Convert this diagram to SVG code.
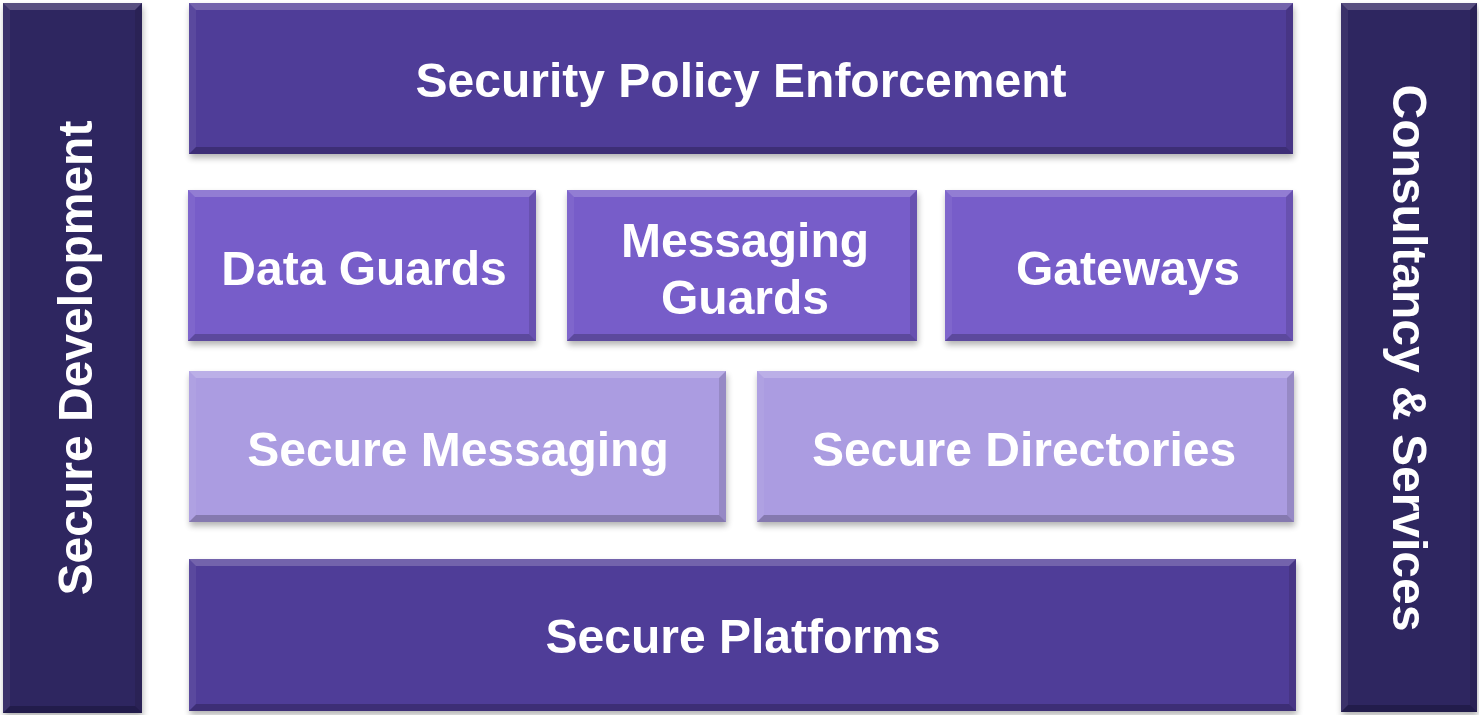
<svg xmlns="http://www.w3.org/2000/svg" width="1479" height="715" viewBox="0 0 1479 715">
<defs>
<style>
.t{font-family:"Liberation Sans",Arial,sans-serif;font-weight:bold;fill:#ffffff;text-anchor:middle;font-size:48px;}
.hi{fill:#ffffff;fill-opacity:0.2;}
.lf{fill:#ffffff;fill-opacity:0.06;}
.bt{fill:#000000;fill-opacity:0.22;}
.rt{fill:#000000;fill-opacity:0.12;}
.dark{fill:#2f2561;}
.mid{fill:#503d98;}
.med{fill:#775dc9;}
.lite{fill:#ab9ce1;}
</style>
<filter id="sh" x="-5%" y="-5%" width="110%" height="115%">
<feGaussianBlur in="SourceAlpha" stdDeviation="3"/>
<feOffset dx="1" dy="4" result="b"/>
<feComponentTransfer><feFuncA type="linear" slope="0.3"/></feComponentTransfer>
<feMerge><feMergeNode/><feMergeNode in="SourceGraphic"/></feMerge>
</filter>
</defs>
<rect width="1479" height="715" fill="#ffffff"/>

<g id="secure-development" filter="url(#sh)">
<rect class="dark" x="3" y="3" width="139" height="710"/>
<polygon class="hi" points="3,3 142,3 135,10 10,10"/>
<polygon class="lf" points="3,3 10,10 10,706 3,713"/>
<polygon class="bt" points="3,713 142,713 135,706 10,706"/>
<polygon class="rt" points="142,3 142,713 135,706 135,10"/>
<text class="t" transform="translate(92,358) rotate(-90)">Secure Development</text>
</g>

<g id="consultancy-services" filter="url(#sh)">
<rect class="dark" x="1341" y="3" width="136" height="709"/>
<polygon class="hi" points="1341,3 1477,3 1470,10 1348,10"/>
<polygon class="lf" points="1341,3 1348,10 1348,705 1341,712"/>
<polygon class="bt" points="1341,712 1477,712 1470,705 1348,705"/>
<polygon class="rt" points="1477,3 1477,712 1470,705 1470,10"/>
<text class="t" transform="translate(1393,358) rotate(90)">Consultancy &amp; Services</text>
</g>

<g id="security-policy-enforcement" filter="url(#sh)">
<rect class="mid" x="189" y="3" width="1104" height="151"/>
<polygon class="hi" points="189,3 1293,3 1286,10 196,10"/>
<polygon class="lf" points="189,3 196,10 196,147 189,154"/>
<polygon class="bt" points="189,154 1293,154 1286,147 196,147"/>
<polygon class="rt" points="1293,3 1293,154 1286,147 1286,10"/>
<text class="t" x="741" y="97">Security Policy Enforcement</text>
</g>

<g id="data-guards" filter="url(#sh)">
<rect class="med" x="188" y="190" width="348" height="151"/>
<polygon class="hi" points="188,190 536,190 529,197 195,197"/>
<polygon class="lf" points="188,190 195,197 195,334 188,341"/>
<polygon class="bt" points="188,341 536,341 529,334 195,334"/>
<polygon class="rt" points="536,190 536,341 529,334 529,197"/>
<text class="t" x="364" y="285">Data Guards</text>
</g>

<g id="messaging-guards" filter="url(#sh)">
<rect class="med" x="567" y="190" width="350" height="151"/>
<polygon class="hi" points="567,190 917,190 910,197 574,197"/>
<polygon class="lf" points="567,190 574,197 574,334 567,341"/>
<polygon class="bt" points="567,341 917,341 910,334 574,334"/>
<polygon class="rt" points="917,190 917,341 910,334 910,197"/>
<text class="t" x="745" y="257">Messaging</text>
<text class="t" x="745" y="314">Guards</text>
</g>

<g id="gateways" filter="url(#sh)">
<rect class="med" x="945" y="190" width="348" height="151"/>
<polygon class="hi" points="945,190 1293,190 1286,197 952,197"/>
<polygon class="lf" points="945,190 952,197 952,334 945,341"/>
<polygon class="bt" points="945,341 1293,341 1286,334 952,334"/>
<polygon class="rt" points="1293,190 1293,341 1286,334 1286,197"/>
<text class="t" x="1128" y="285">Gateways</text>
</g>

<g id="secure-messaging" filter="url(#sh)">
<rect class="lite" x="189" y="371" width="537" height="151"/>
<polygon class="hi" points="189,371 726,371 719,378 196,378"/>
<polygon class="lf" points="189,371 196,378 196,515 189,522"/>
<polygon class="bt" points="189,522 726,522 719,515 196,515"/>
<polygon class="rt" points="726,371 726,522 719,515 719,378"/>
<text class="t" x="458" y="466">Secure Messaging</text>
</g>

<g id="secure-directories" filter="url(#sh)">
<rect class="lite" x="757" y="371" width="537" height="151"/>
<polygon class="hi" points="757,371 1294,371 1287,378 764,378"/>
<polygon class="lf" points="757,371 764,378 764,515 757,522"/>
<polygon class="bt" points="757,522 1294,522 1287,515 764,515"/>
<polygon class="rt" points="1294,371 1294,522 1287,515 1287,378"/>
<text class="t" x="1024" y="466">Secure Directories</text>
</g>

<g id="secure-platforms" filter="url(#sh)">
<rect class="mid" x="189" y="559" width="1107" height="152"/>
<polygon class="hi" points="189,559 1296,559 1289,566 196,566"/>
<polygon class="lf" points="189,559 196,566 196,704 189,711"/>
<polygon class="bt" points="189,711 1296,711 1289,704 196,704"/>
<polygon class="rt" points="1296,559 1296,711 1289,704 1289,566"/>
<text class="t" x="743" y="653">Secure Platforms</text>
</g>

<g id="connectors"/>
</svg>
